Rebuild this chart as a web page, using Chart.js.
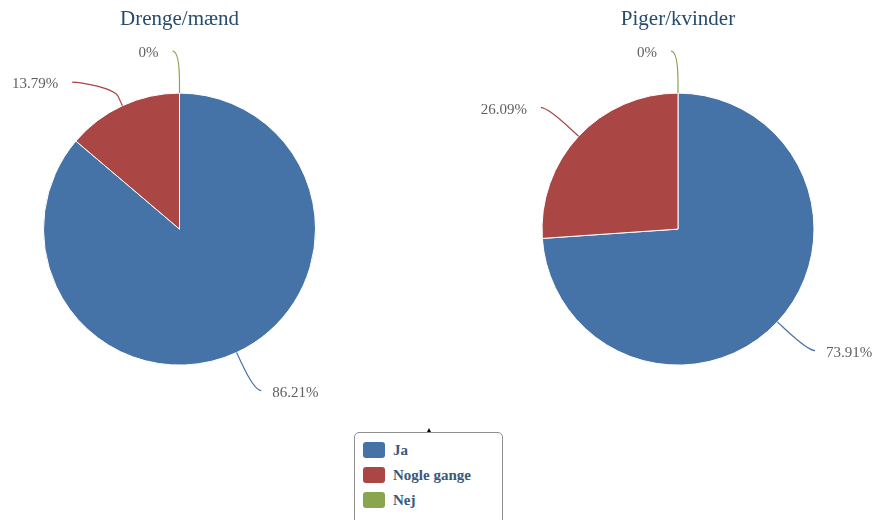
<!DOCTYPE html>
<html>
<head>
<meta charset="utf-8">
<script src="https://cdn.jsdelivr.net/npm/chart.js@4.4.1/dist/chart.umd.min.js"></script>
<style>
    html, body { margin: 0; padding: 0; background: #fff; }
    body { width: 876px; height: 520px; position: relative; overflow: hidden; font-family: "Liberation Serif", serif; }
    .pie-box { position: absolute; top: 0; width: 438px; height: 420px; }
    #legend {
        position: absolute; left: 354px; top: 432px; width: 147px; height: 100px;
        border: 1px solid #909090; border-radius: 5px; background: #fff;
    }
    #legend-mark {
        position: absolute; left: 427px; top: 428px; width: 0; height: 0;
        border-left: 2px solid transparent; border-right: 2px solid transparent; border-bottom: 4px solid #000;
    }
    .legend-item { position: absolute; left: 8px; height: 16px; }
    .legend-swatch { position: absolute; left: 0; top: 0; width: 22px; height: 16px; border-radius: 3px; }
    .legend-text {
        position: absolute; left: 30px; top: -1px; white-space: nowrap;
        font: bold 15px "Liberation Serif", serif; color: #3b5878; line-height: 18px;
    }
</style>
</head>
<body>
<div class="pie-box" style="left:0px"><canvas id="pieDrenge"></canvas></div>
<div class="pie-box" style="left:438px"><canvas id="piePiger"></canvas></div>
<div id="legend"></div>
<div id="legend-mark"></div>

<script>
// Data
const categories = ['Ja', 'Nogle gange', 'Nej'];
const drengeValues = [86.21, 13.79, 0];
const pigerValues = [73.91, 26.09, 0];
const chartTitles = ['Drenge/mænd', 'Piger/kvinder'];
const sliceColors = ['#4572A7', '#AA4643', '#89A54E'];

/**
 * Labels outside the pie with soft (curved) connector lines
 */
const pieLabelPlugin = {
    id: 'pieLabels',
    afterDatasetsDraw: function (chart, args, opts) {
        const ctx = chart.ctx;
        const meta = chart.getDatasetMeta(0);
        const dataset = chart.data.datasets[0];
        const labels = [];

        meta.data.forEach((arc, i) => {
            const p = arc.getProps(['x', 'y', 'startAngle', 'endAngle', 'outerRadius'], true);
            const mid = (p.startAngle + p.endAngle) / 2;
            const side = Math.cos(mid) > 1e-9 ? 1 : -1;
            const R = p.outerRadius + opts.distance;
            labels.push({ i: i, p: p, mid: mid, side: side, R: R, y: p.y + R * Math.sin(mid) });
        });

        // keep labels on the same side apart
        [1, -1].forEach(side => {
            const group = labels.filter(l => l.side === side).sort((a, b) => a.y - b.y);
            for (let k = 1; k < group.length; k++) {
                if (group[k].y < group[k - 1].y + opts.spacing) {
                    group[k].y = group[k - 1].y + opts.spacing;
                }
            }
        });

        ctx.save();
        labels.forEach(l => {
            const p = l.p;
            const cos = Math.cos(l.mid), sin = Math.sin(l.mid);
            const dy = l.y - p.y;
            const x = p.x + l.side * Math.sqrt(Math.max(l.R * l.R - dy * dy, 0));
            const ex = p.x + p.outerRadius * cos, ey = p.y + p.outerRadius * sin;
            const bx = p.x + (p.outerRadius + opts.breakOffset) * cos;
            const by = p.y + (p.outerRadius + opts.breakOffset) * sin;

            ctx.beginPath();
            ctx.moveTo(x + l.side * 7, l.y);
            ctx.bezierCurveTo(x, l.y, 2 * bx - ex, 2 * by - ey, bx, by);
            ctx.lineTo(ex, ey);
            ctx.strokeStyle = dataset.backgroundColor[l.i];
            ctx.lineWidth = 1.2;
            ctx.stroke();

            ctx.font = '15px "Liberation Serif"';
            ctx.fillStyle = '#606060';
            ctx.textBaseline = 'middle';
            ctx.textAlign = l.side > 0 ? 'left' : 'right';
            ctx.fillText(dataset.data[l.i] + '%', x + (l.side > 0 ? 18 : -21), l.y + 2);
        });
        ctx.restore();
    }
};

/**
 * @param {string} canvasId - canvas element id
 * @param {string} title - chart title
 * @param {number[]} values - slice values (percent)
 * @param {number} padLeft - extra left padding to place the pie centre
 * @param {number} padRight - extra right padding to place the pie centre
 */
function createPie(canvasId, title, values, padLeft, padRight) {
    const canvas = document.getElementById(canvasId);
    return new Chart(canvas.getContext('2d'), {
        type: 'pie',
        data: {
            labels: categories,
            datasets: [{
                data: values,
                backgroundColor: sliceColors,
                borderColor: '#ffffff',
                borderWidth: 1
            }]
        },
        options: {
            responsive: true,
            maintainAspectRatio: false,
            animation: false,
            radius: 136,
            layout: { padding: { top: 0, bottom: 55, left: padLeft, right: padRight } },
            plugins: {
                legend: { display: false },
                tooltip: { enabled: false },
                title: {
                    display: true,
                    text: title,
                    color: '#274b6d',
                    font: { family: 'Liberation Serif', size: 21, weight: 'normal' },
                    padding: { top: 7, bottom: 61 }
                },
                pieLabels: { distance: 42, spacing: 31, breakOffset: 10 }
            }
        },
        plugins: [pieLabelPlugin]
    });
}

// left pie centred at x=179.5, right pie at x=678 (page coords)
createPie('pieDrenge', chartTitles[0], drengeValues, 0, 79);
createPie('piePiger', chartTitles[1], pigerValues, 42, 0);

// Shared legend for both pies
const legend = document.getElementById('legend');
categories.forEach((name, i) => {
    const item = document.createElement('div');
    item.className = 'legend-item';
    item.style.top = (9 + i * 25) + 'px';
    item.innerHTML = '<span class="legend-swatch" style="background:' + sliceColors[i] + '"></span>' +
        '<span class="legend-text">' + name + '</span>';
    legend.appendChild(item);
});
</script>
</body>
</html>
